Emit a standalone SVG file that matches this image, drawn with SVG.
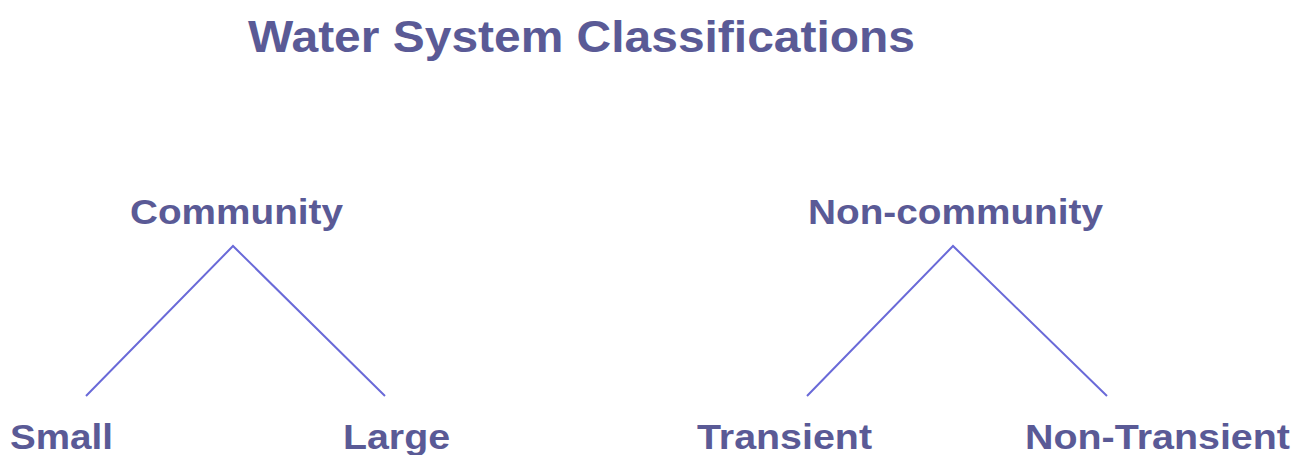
<svg xmlns="http://www.w3.org/2000/svg" width="1296" height="455" viewBox="0 0 1296 455">
<style>
.t{font-family:"Liberation Sans",Arial,sans-serif;font-weight:bold;fill:#5a5a96}
.c{stroke:#6a6ad8;stroke-width:2;fill:none}
</style>
<rect width="1296" height="455" fill="#fff"/>
<g id="title"><text class="t" x="248" y="52" font-size="45" textLength="667" lengthAdjust="spacingAndGlyphs">Water System Classifications</text></g>
<g id="community"><text class="t" x="130" y="224" font-size="35" textLength="213" lengthAdjust="spacingAndGlyphs">Community</text></g>
<g id="noncommunity"><text class="t" x="808" y="224" font-size="35" textLength="295" lengthAdjust="spacingAndGlyphs">Non-community</text></g>
<g id="small"><text class="t" x="10" y="449" font-size="35" textLength="103" lengthAdjust="spacingAndGlyphs">Small</text></g>
<g id="large"><text class="t" x="343" y="449" font-size="35" textLength="107" lengthAdjust="spacingAndGlyphs">Large</text></g>
<g id="transient"><text class="t" x="697" y="449" font-size="35" textLength="175" lengthAdjust="spacingAndGlyphs">Transient</text></g>
<g id="nontransient"><text class="t" x="1025" y="449" font-size="35" textLength="265" lengthAdjust="spacingAndGlyphs">Non-Transient</text></g>
<g id="connectors">
<path class="c" d="M86 396L233 246L385 396"/>
<path class="c" d="M807 396L953 246L1107 396"/>
</g>
</svg>
